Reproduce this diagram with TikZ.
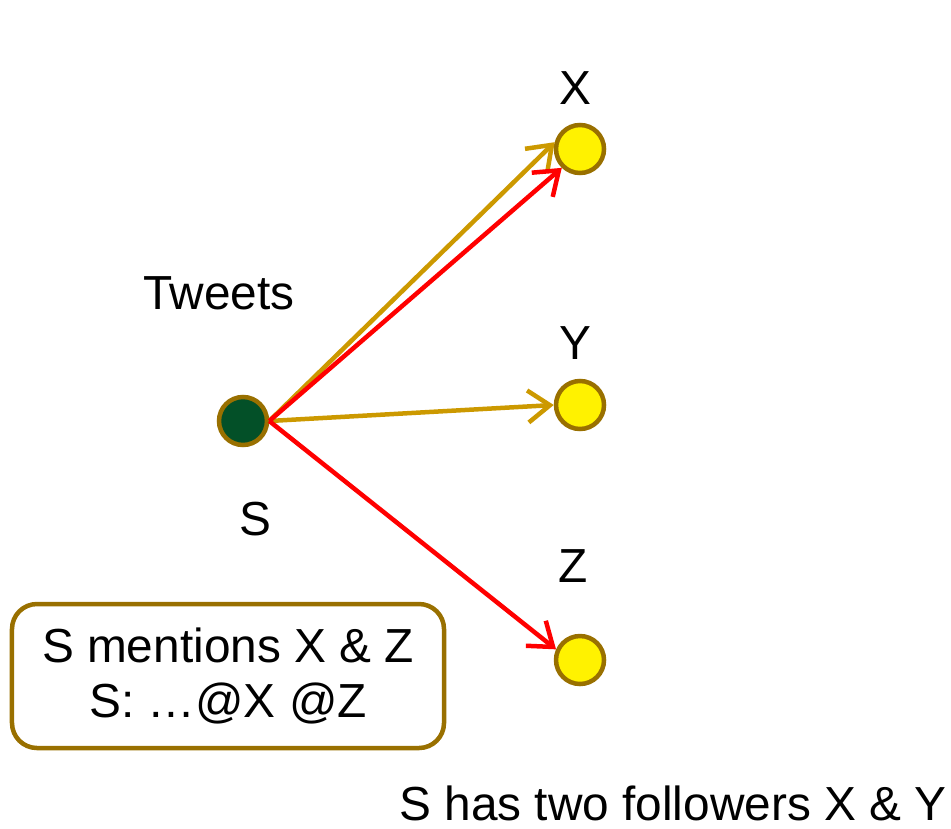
\documentclass[tikz,border=0pt]{standalone}
\usepackage{fontspec}
\setmainfont{Liberation Sans}
\usetikzlibrary{arrows.meta,positioning}
\definecolor{rim}{RGB}{153,112,0}
\definecolor{gold}{RGB}{204,153,0}
\definecolor{pine}{RGB}{3,80,40}
\definecolor{hotred}{RGB}{255,0,0}
\tikzset{
  every picture/.style={font=\fontsize{13.6}{15.6}\selectfont},
  user/.style={circle,draw=rim,line width=0.045cm,minimum size=0.48cm,inner sep=0pt},
  follow/.style={gold,line width=0.045cm,-{Straight Barb[length=0.22cm,width=0.32cm]}},
  mention/.style={hotred,line width=0.045cm,-{Straight Barb[length=0.22cm,width=0.32cm]}},
  note/.style={draw=rim,line width=0.045cm,rounded corners=0.25cm,align=center,
    minimum width=4.32cm,minimum height=1.44cm},
}
\begin{document}
\begin{tikzpicture}
  \useasboundingbox (0,0) rectangle (9.51,8.28);
  % users
  \node[user,fill=pine] (s) at (2.43,4.07) {};
  \node[user,fill=yellow] (x) at (5.80,6.79) {};
  \node[user,fill=yellow] (y) at (5.80,4.23) {};
  \node[user,fill=yellow] (z) at (5.80,1.68) {};
  % labels
  \node (lx) at (5.75,7.40) {X};
  \node (ly) at (5.75,4.85) {Y};
  \node (lz) at (5.73,2.62) {Z};
  \node (ls) at (2.55,3.09) {S};
  \node (tw) at (2.19,5.35) {Tweets};
  % follower edges and mentions
  \draw[follow] (s.east) -- (x.165);
  \draw[follow] (s.east) -- (y.west);
  \draw[mention] (s.east) -- (x.226);
  \draw[mention] (s.east) -- (z.156);
  % notes
  \node[note] (box) at (2.28,1.52) {S mentions X \& Z\\S: \dots@X @Z};
  \node (foot) at (6.73,0.25) {S has two followers X \& Y};
\end{tikzpicture}
\end{document}
